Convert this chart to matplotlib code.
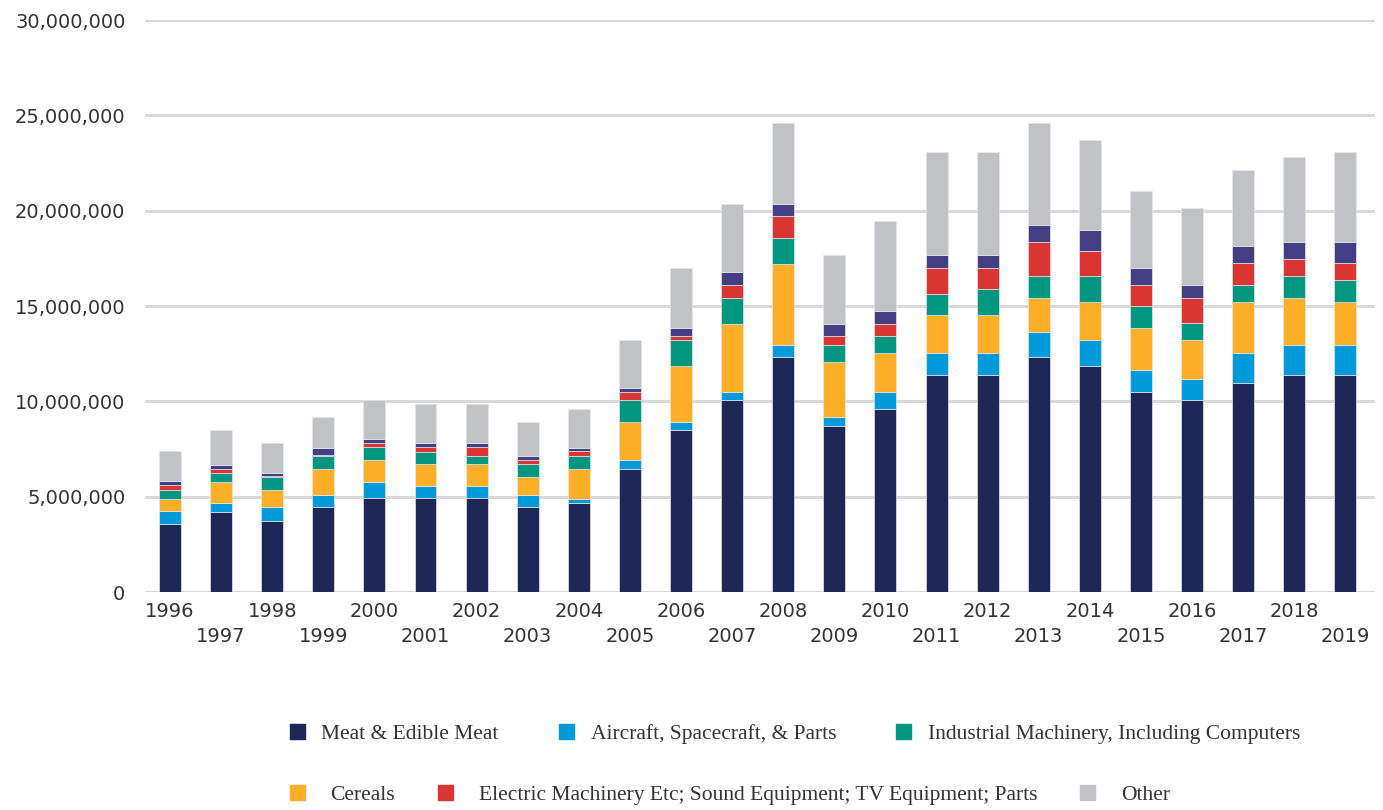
import numpy as np
import matplotlib
matplotlib.use('Agg')
import matplotlib.pyplot as plt
from matplotlib.patches import Patch
from matplotlib.ticker import FuncFormatter

# Values, in millions
years = list(range(1996, 2020))
meat = [3.55, 4.21, 3.75, 4.44, 4.91, 4.91, 4.91, 4.44, 4.67, 6.47, 8.48, 10.05,
        12.31, 8.69, 9.60, 11.40, 11.40, 12.31, 11.85, 10.51, 10.05, 10.94, 11.40, 11.40]
aircraft = [0.68, 0.46, 0.69, 0.67, 0.88, 0.67, 0.67, 0.67, 0.22, 0.44, 0.45, 0.46,
            0.66, 0.47, 0.91, 1.12, 1.12, 1.33, 1.35, 1.12, 1.12, 1.58, 1.57, 1.57]
cereals = [0.67, 1.12, 0.91, 1.36, 1.14, 1.12, 1.12, 0.91, 1.58, 2.02, 2.92, 3.56,
           4.25, 2.92, 2.01, 2.03, 2.03, 1.80, 2.03, 2.23, 2.03, 2.71, 2.47, 2.26]
industrial = [0.45, 0.44, 0.69, 0.67, 0.65, 0.67, 0.44, 0.68, 0.67, 1.12, 1.35, 1.35,
              1.35, 0.89, 0.91, 1.10, 1.32, 1.13, 1.33, 1.14, 0.89, 0.87, 1.12, 1.12]
electric = [0.25, 0.24, 0.03, 0.05, 0.23, 0.23, 0.46, 0.23, 0.25, 0.46, 0.23, 0.68,
            1.13, 0.46, 0.64, 1.34, 1.12, 1.79, 1.34, 1.12, 1.35, 1.14, 0.89, 0.89]
unlabeled = [0.20, 0.20, 0.18, 0.37, 0.23, 0.22, 0.21, 0.21, 0.17, 0.21, 0.43, 0.67,
             0.65, 0.64, 0.69, 0.70, 0.70, 0.87, 1.10, 0.87, 0.66, 0.89, 0.89, 1.10]
other = [1.60, 1.82, 1.57, 1.62, 2.03, 2.02, 2.03, 1.79, 2.05, 2.48, 3.13, 3.58,
         4.27, 3.62, 4.70, 5.37, 5.37, 5.39, 4.72, 4.04, 4.04, 4.02, 4.49, 4.72]

series = [
    ('Meat & Edible Meat', meat, '#1e2757'),
    ('Aircraft, Spacecraft, & Parts', aircraft, '#0099d9'),
    ('Cereals', cereals, '#fdb027'),
    ('Industrial Machinery, Including Computers', industrial, '#00967f'),
    ('Electric Machinery Etc; Sound Equipment; TV Equipment; Parts', electric, '#d93533'),
    (None, unlabeled, '#443f85'),
    ('Other', other, '#c1c2c6'),
]

fig = plt.figure(figsize=(13.83, 8.10), dpi=100)
ax = fig.add_axes([0.1048, 0.2691, 0.8894, 0.7062])

x = np.arange(len(years))
bottom = np.zeros(len(years))
for label, vals, color in series:
    v = np.array(vals) * 1e6
    ax.bar(x, v, width=0.43, bottom=bottom, color=color,
           edgecolor='#e6e6ea', linewidth=0.5, zorder=3)
    bottom += v

ax.set_ylim(0, 30e6)
ax.set_xlim(-0.49, 23.58)
ax.set_yticks(np.arange(0, 30e6 + 1, 5e6))
ax.yaxis.set_major_formatter(FuncFormatter(lambda v, p: f'{int(v):,}'))
ax.grid(axis='y', color='#d9d9d9', linewidth=2.2, zorder=0)
ax.set_axisbelow(True)
for s in ax.spines.values():
    s.set_visible(False)

# alternate year labels on two rows
ax.set_xticks(x[::2])
ax.set_xticklabels([str(y) for y in years[::2]])
ax.set_xticks(x[1::2], minor=True)
ax.set_xticklabels([str(y) for y in years[1::2]], minor=True)
ax.tick_params(axis='x', which='major', length=0, pad=7, labelsize=14, labelcolor='#333333')
ax.tick_params(axis='x', which='minor', length=0, pad=25, labelsize=14, labelcolor='#333333')
ax.tick_params(axis='y', length=0, pad=14, labelsize=14, labelcolor='#333333')

row1 = [Patch(color=c, label=l) for l, v, c in series if l in
        ('Meat & Edible Meat', 'Aircraft, Spacecraft, & Parts',
         'Industrial Machinery, Including Computers')]
row2 = [Patch(color=c, label=l) for l, v, c in series if l in
        ('Cereals', 'Electric Machinery Etc; Sound Equipment; TV Equipment; Parts', 'Other')]

common = dict(loc='center left', ncol=3, frameon=False, borderpad=0, borderaxespad=0,
              handlelength=0.68, handleheight=0.68,
              prop={'family': 'Liberation Serif', 'size': 15.5}, labelcolor='#333333')
fig.legend(handles=row1, bbox_to_anchor=(290 / 1383, 1 - 734 / 810),
           handletextpad=0.78, columnspacing=2.8, **common)
fig.legend(handles=row2, bbox_to_anchor=(290 / 1383, 1 - 795 / 810),
           handletextpad=1.2, columnspacing=2.0, **common)

fig.savefig('out.png', dpi=100)
